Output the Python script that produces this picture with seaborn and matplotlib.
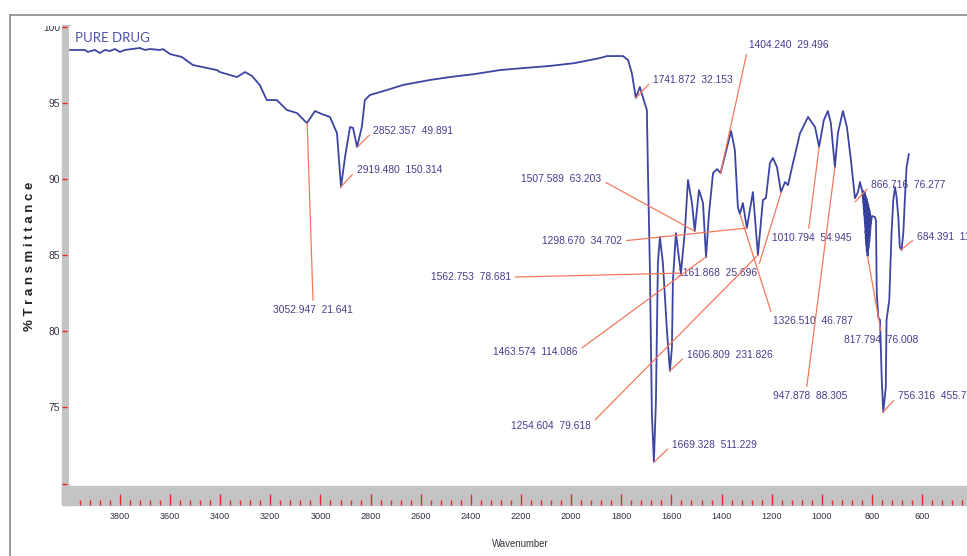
import matplotlib
matplotlib.use("Agg")
import matplotlib.pyplot as plt
import seaborn as sns
import pandas as pd
from matplotlib import font_manager
from matplotlib.patches import Rectangle
from matplotlib.lines import Line2D

# ---------------- data ----------------
wavenumber = [4000, 3940, 3928, 3900, 3880, 3860, 3840, 3820, 3800, 3780, 3720, 3700,
              3680, 3640, 3628, 3600, 3553, 3509, 3453, 3413, 3401, 3333, 3301, 3273,
              3242, 3214, 3174, 3134, 3094, 3054, 3022, 2994, 2962, 2934, 2918, 2902,
              2882, 2870, 2854, 2835, 2823, 2803, 2735, 2671, 2563, 2484, 2384, 2284,
              2184, 2085, 1985, 1885, 1857, 1793, 1773, 1758, 1742, 1726, 1714, 1698,
              1694, 1686, 1678, 1670, 1662, 1654, 1646, 1634, 1618, 1606, 1598, 1594,
              1582, 1574, 1562, 1546, 1534, 1518, 1507, 1490, 1474, 1462, 1450, 1434,
              1418, 1404, 1394, 1378, 1362, 1347, 1335, 1327, 1315, 1299, 1275, 1267,
              1255, 1235, 1223, 1207, 1195, 1179, 1163, 1147, 1135, 1115, 1087, 1055,
              1027, 1011, 992, 976, 964, 948, 936, 916, 900, 884, 868, 856, 848,
              840, 828, 838, 820, 836, 814, 834, 808, 832, 804, 830, 806, 828, 808,
              828, 810, 826, 812, 824, 814, 822, 816, 818, 810, 804, 800,
              788, 784, 781, 775, 768, 761, 755, 745, 742, 731, 722, 715, 708, 702,
              695, 689, 682, 675, 669, 662, 653]
transmittance = [98.46, 98.46, 98.33, 98.46, 98.26, 98.46, 98.39, 98.52, 98.33, 98.46,
                 98.59, 98.46, 98.52, 98.46, 98.52, 98.19, 98.00, 97.47, 97.28, 97.14,
                 97.01, 96.68, 97.01, 96.75, 96.16, 95.17, 95.17, 94.52, 94.32, 93.66,
                 94.45, 94.25, 94.06, 93.00, 89.46, 91.43, 93.40, 93.34, 92.09, 93.40,
                 95.17, 95.50, 95.83, 96.16, 96.49, 96.68, 96.88, 97.14, 97.28, 97.41,
                 97.60, 97.93, 98.06, 98.06, 97.80, 96.95, 95.31, 96.03, 95.37, 94.52,
                 90.77, 84.21, 74.63, 71.41, 75.28, 84.47, 86.18, 84.47, 80.07, 77.38,
                 78.95, 83.36, 86.44, 85.32, 83.81, 86.64, 89.92, 88.41, 86.57, 89.26,
                 88.41, 84.86, 87.75, 90.38, 90.64, 90.38, 91.04, 92.09, 93.14, 91.89,
                 88.15, 87.69, 88.41, 86.77, 89.13, 87.49, 85.00, 88.61, 88.74, 91.04,
                 91.37, 90.77, 89.13, 89.79, 89.59, 91.04, 93.00, 94.06, 93.40, 92.09,
                 93.86, 94.45, 93.66, 90.77, 93.00, 94.45, 93.40, 91.23, 88.73, 89.13,
                 89.79,
                 89.26, 89.07, 88.87, 88.67, 88.48, 88.28, 88.08, 87.88, 87.69, 87.49,
                 87.29, 87.09, 86.90, 86.70, 86.51, 86.31, 86.11, 85.91, 85.72, 85.52,
                 85.32, 85.12, 84.93, 85.98, 87.16, 87.56,
                 87.49, 87.23, 82.50, 80.92, 80.73, 76.79, 74.69, 76.33, 80.73, 82.04,
                 86.44, 88.61, 89.46, 88.81, 87.49, 85.52, 85.33, 86.44, 88.61, 90.77,
                 91.63]

# dense noisy band between ~866 and ~817 cm-1 (drawn filled in the original)
blob_wavenumber = [840, 828, 814, 804, 808, 812, 816, 818, 822, 826, 828, 832, 836, 840]
blob_transmittance = [89.26, 89.07, 88.28, 87.49, 86.70, 85.91, 85.12, 84.93, 85.32,
                      86.11, 86.90, 87.69, 88.48, 89.26]

peak_labels = ["3052.947  21.641", "2919.480  150.314", "2852.357  49.891",
               "1741.872  32.153", "1404.240  29.496", "1507.589  63.203",
               "1298.670  34.702", "1562.753  78.681", "1161.868  25.696",
               "1463.574  114.086", "1606.809  231.826", "1669.328  511.229",
               "1254.604  79.618", "1326.510  46.787", "1010.794  54.945",
               "947.878  88.305", "866.716  76.277", "817.794  76.008",
               "756.316  455.76", "684.391  11"]
peak_wavenumber = [3052.947, 2919.480, 2852.357, 1741.872, 1404.240, 1507.589,
                   1298.670, 1562.753, 1161.868, 1463.574, 1606.809, 1669.328,
                   1254.604, 1326.510, 1010.794, 947.878, 866.716, 817.794,
                   756.316, 684.391]
peak_transmittance = [93.66, 89.46, 92.09, 95.31, 90.38, 86.57, 86.77, 83.81, 89.13,
                      84.86, 77.38, 71.41, 85.00, 87.69, 92.09, 90.77, 88.50, 84.93,
                      74.69, 85.33]

x_major_ticks = [3800, 3600, 3400, 3200, 3000, 2800, 2600, 2400, 2200, 2000,
                 1800, 1600, 1400, 1200, 1000, 800, 600]
y_ticks = [70, 75, 80, 85, 90, 95, 100]
y_ticklabels = ["", "75", "80", "85", "90", "95", "100"]

# ---------------- layout (pixel offsets from peak to label) ----------------
label_layout = [  # dx, dy, ha, relpos
    (6, -187, "center", (0.5, 1.0)),
    (16, 17, "left", (0.0, 0.5)),
    (16, 16, "left", (0.0, 0.5)),
    (17, 18, "left", (0.0, 0.5)),
    (28, 128, "left", (0.0, 0.5)),
    (-93, 52, "right", (1.0, 0.4)),
    (-125, -13, "right", (1.0, 0.5)),
    (-170, -4, "right", (1.0, 0.5)),
    (-24, -81, "right", (1.0, 0.8)),
    (-128, -95, "right", (1.0, 0.6)),
    (17, 16, "left", (0.0, 0.5)),
    (18, 17, "left", (0.0, 0.5)),
    (-167, -171, "right", (1.0, 0.7)),
    (33, -107, "left", (0.0, 0.8)),
    (-7, -91, "center", (0.45, 1.0)),
    (-25, -229, "center", (0.45, 1.0)),
    (16, 17, "left", (0.0, 0.5)),
    (14, -84, "center", (0.5, 1.0)),
    (15, 16, "left", (0.0, 0.5)),
    (16, 13, "left", (0.0, 0.5)),
]

W, H = 967, 556
sns.set_style("white")
names = {f.name for f in font_manager.fontManager.ttflist}
if "Liberation Sans Narrow" in names:
    NARROW, scale = "Liberation Sans Narrow", 1.0
elif "Liberation Sans" in names:
    NARROW, scale = "Liberation Sans", 0.82
else:
    NARROW, scale = "DejaVu Sans", 0.72
plt.rcParams["font.family"] = ["DejaVu Sans"]

LINE_C = "#3d45a3"
ANN_LINE_C = "#f4785a"
ANN_TEXT_C = "#4b3a8e"
TICK_C = "#e8252f"
BAND_C = "#c4c4c4"

fig = plt.figure(figsize=(W / 100, H / 100), dpi=100)
ax = fig.add_axes([69 / W, 1 - 483.5 / H, (W - 69) / W, (483.5 - 26.5) / H])

df = pd.DataFrame({"Wavenumber": wavenumber, "T": transmittance})
sns.lineplot(data=df, x="Wavenumber", y="T", sort=False, estimator=None,
             color=LINE_C, lw=1.3, ax=ax)
ax.fill(blob_wavenumber, blob_transmittance, color="#2f3792", lw=0.8)

ax.set_xlim(4003, 421)
ax.set_ylim(70, 100)
for s in ax.spines.values():
    s.set_visible(False)
ax.spines["bottom"].set_position(("outward", 21.5 * 0.72))
ax.spines["left"].set_position(("outward", 7 * 0.72))

ax.set_xticks(x_major_ticks)
ax.set_xticklabels([str(v) for v in x_major_ticks])
ax.set_xticks([v for v in range(3960, 420, -40) if v % 200 != 0], minor=True)
ax.set_yticks(y_ticks)
ax.set_yticklabels(y_ticklabels)
ax.tick_params(axis="x", which="both", bottom=True)
ax.tick_params(axis="y", which="both", left=True)
ax.tick_params(axis="x", which="major", direction="in", length=8, width=1.0,
               color=TICK_C, pad=5, labelsize=8 * scale, labelcolor="#333340")
ax.tick_params(axis="x", which="minor", direction="in", length=3.8, width=1.0,
               color=TICK_C)
ax.tick_params(axis="y", which="major", direction="in", length=3.6, width=1.0,
               color=TICK_C, pad=1.5, labelsize=9 * scale, labelcolor="#333340")
for lab in ax.get_xticklabels() + ax.get_yticklabels():
    lab.set_fontfamily(NARROW)

ax.set_xlabel("Wavenumber", fontsize=8.5 * scale, family=NARROW, color="#333340")
ax.xaxis.set_label_coords((520 - 69) / (W - 69), (483.5 - 539) / 457)
ax.set_ylabel("% T r a n s m i t t a n c e", fontsize=9.5, fontweight="bold",
              family="Liberation Sans", color="#222222")
ax.yaxis.set_label_coords((36 - 69) / (W - 69), (483.5 - 256) / 457)

# grey axis bands
fig.add_artist(Rectangle((62 / W, 1 - 505 / H), 7 / W, (505 - 25) / H,
                         transform=fig.transFigure, color=BAND_C, zorder=-1))
fig.add_artist(Rectangle((62 / W, 1 - 505 / H), (W - 62) / W, 19 / H,
                         transform=fig.transFigure, color=BAND_C, zorder=-1))
# hide top of the "100" label like the cropped original
fig.add_artist(Rectangle((30 / W, 1 - 24.5 / H), 31 / W, 9 / H,
                         transform=fig.transFigure, color="white", zorder=5))
# outer frame
fig.add_artist(Line2D([10 / W, 1], [1 - 15 / H, 1 - 15 / H], transform=fig.transFigure,
                      color="#8a8a8a", lw=1.2, zorder=6))
fig.add_artist(Line2D([10 / W, 10 / W], [1 - 15 / H, 0], transform=fig.transFigure,
                      color="#8a8a8a", lw=1.2, zorder=6))

fig.text(75 / W, 1 - 38 / H, "PURE DRUG", family="Lato", fontsize=9.5,
         color="#4a52a8", va="center", ha="left")

for lab, pw, pt, (dx, dy, ha, rp) in zip(peak_labels, peak_wavenumber,
                                         peak_transmittance, label_layout):
    ax.annotate(lab, xy=(pw, pt), xytext=(dx, dy), textcoords="offset pixels",
                ha=ha, va="center", fontsize=9 * scale, family=NARROW,
                color=ANN_TEXT_C, annotation_clip=False,
                arrowprops=dict(arrowstyle="-", color=ANN_LINE_C, lw=0.9,
                                shrinkA=1, shrinkB=0, relpos=rp))

fig.savefig("out.png", dpi=100)
